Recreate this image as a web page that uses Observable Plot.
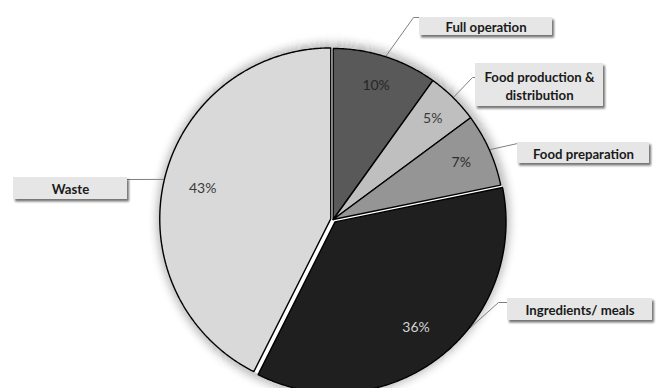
<!DOCTYPE html>
<html><head><meta charset="utf-8">
<script src="https://cdn.jsdelivr.net/npm/d3@7"></script>
<script src="https://cdn.jsdelivr.net/npm/@observablehq/plot@0.6"></script>
<style>
html,body{margin:0;padding:0;background:#fff;}
#chart{width:656px;height:388px;overflow:hidden;}
</style></head><body><div id="chart"></div>
<script>
// ---- data ----
const categories = ["Full operation", "Food production & distribution", "Food preparation", "Ingredients/ meals", "Waste"];
const shares = [10, 5, 7, 36, 43];
const pctLabels = ["10%", "5%", "7%", "36%", "43%"];
const calloutText = ["Full operation", "Food production &\ndistribution", "Food preparation", "Ingredients/ meals", "Waste"];

// ---- layout / style ----
const W = 656, H = 388, CX = 332.7, CY = 219, R = 171;
const fills = ["#595959", "#bfbfbf", "#959595", "#1f1f1f", "#d9d9d9"];
const pctColors = ["#262626", "#3a3a3a", "#2e2e2e", "#d4d4d4", "#3a3a3a"];
const explodePx = [0, 0, 0, 3, 2.5];
const labelRadius = [0.82, 0.83, 0.82, 0.78, 0.77];
const callouts = [
  {box: [419, 17, 552, 35], path: [[413, 17], [419, 17]], adj: 0},
  {box: [475, 63, 603, 106], path: [[472, 77], [475, 77]], adj: 0},
  {box: [517, 142, 649, 163], path: [[517, 143]], adj: 0},
  {box: [507, 298, 652, 320], path: [[498, 302], [507, 302]], adj: -13},
  {box: [13, 177, 127, 199], path: [[127, 179]], adj: 0}
];
const glowRings = d3.range(1, 17); // px outside the pie edge for the soft outer shadow

const ux = px => (px - CX) / R;
const uy = py => (CY - py) / R;

const arcs = d3.pie().sort(null).value(d => d)(shares);
const slices = arcs.map((a, i) => {
  const mid = (a.startAngle + a.endAngle) / 2;
  const e = explodePx[i] / R;
  const ox = e * Math.sin(mid), oy = e * Math.cos(mid);
  const pts = [{x: ox, y: oy}];
  const n = Math.max(4, Math.ceil((a.endAngle - a.startAngle) / (Math.PI / 360)));
  for (let k = 0; k <= n; k++) {
    const t = a.startAngle + (a.endAngle - a.startAngle) * k / n;
    pts.push({x: ox + Math.sin(t), y: oy + Math.cos(t)});
  }
  pts.push({x: ox, y: oy});
  return {i, mid, ox, oy, pts};
});

const circle = r => d3.range(0, 721).map(k => ({x: r * Math.sin(k * Math.PI / 360), y: r * Math.cos(k * Math.PI / 360)}));

const pctRows = slices.map(s => ({
  x: s.ox + labelRadius[s.i] * Math.sin(s.mid),
  y: s.oy + labelRadius[s.i] * Math.cos(s.mid),
  text: pctLabels[s.i], color: pctColors[s.i]
}));

const leaderMarks = callouts.map((c, i) => {
  const s = slices[i];
  const a = s.mid + c.adj * Math.PI / 180;
  const pts = [{x: s.ox + Math.sin(a), y: s.oy + Math.cos(a)}]
    .concat(c.path.map(([px, py]) => ({x: ux(px), y: uy(py)})));
  return Plot.line(pts, {x: "x", y: "y", stroke: "#7f7f7f", strokeWidth: 1, curve: "linear"});
});

const boxRows = callouts.map((c, i) => ({
  x1: ux(c.box[0]), x2: ux(c.box[2]), y1: uy(c.box[1]), y2: uy(c.box[3]),
  cx: ux((c.box[0] + c.box[2]) / 2), cy: uy((c.box[1] + c.box[3]) / 2),
  text: calloutText[i]
}));

const glowMarks = glowRings.map(d => Plot.line(circle(1 + d / R), {
  x: "x", y: "y", fill: "none", stroke: "#000", strokeWidth: 1.15,
  strokeOpacity: 0.2 * Math.exp(-(d * d) / (2 * 5.5 * 5.5))
}));

const svg = Plot.plot({
  width: W, height: H,
  margin: 0,
  x: {domain: [ux(0), ux(W)], range: [0, W], axis: null},
  y: {domain: [uy(H), uy(0)], range: [H, 0], axis: null},
  style: {fontFamily: "Lato, 'Open Sans', sans-serif", background: "#fff"},
  marks: [
    ...glowMarks,
    ...leaderMarks,
    ...slices.map(s => Plot.line(s.pts, {x: "x", y: "y", fill: fills[s.i], stroke: "#000", strokeWidth: 1.4, strokeLinejoin: "miter", curve: "linear"})),
    Plot.text(pctRows, {x: "x", y: "y", text: "text", fill: "color", fontSize: 14, fontFamily: "Lato"}),
    Plot.rect(boxRows, {x1: "x1", x2: "x2", y1: "y1", y2: "y2", fill: "#e6e6e6", ariaDescription: "callout-box"}),
    Plot.text(boxRows, {x: "cx", y: "cy", text: "text", fill: "#1a1a1a", fontSize: 13.2, fontWeight: "bold", fontFamily: "Lato", lineHeight: 1.38})
  ],
  color: {type: "identity"}
});

const root = d3.select(svg);
const defs = root.insert("defs", ":first-child");
const ds = defs.append("filter").attr("id", "boxshadow").attr("x", "-10%").attr("y", "-30%").attr("width", "130%").attr("height", "170%");
ds.append("feDropShadow").attr("dx", 2).attr("dy", 2.5).attr("stdDeviation", 1.3).attr("flood-color", "#000").attr("flood-opacity", 0.55);
root.selectAll('[aria-description="callout-box"]').attr("filter", "url(#boxshadow)");

document.getElementById("chart").appendChild(svg);
</script>
</body></html>
